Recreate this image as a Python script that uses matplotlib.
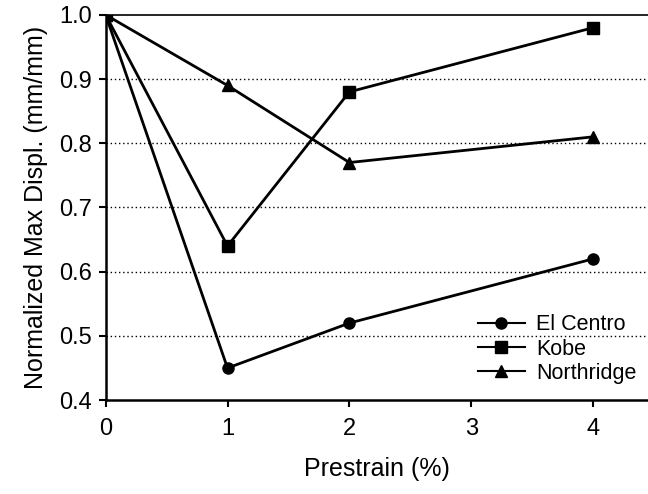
import matplotlib
matplotlib.use("Agg")
import matplotlib.pyplot as plt

plt.rcParams['font.family'] = ['Liberation Sans', 'DejaVu Sans']

prestrain = [0, 1, 2, 4]
el_centro = [1.0, 0.45, 0.52, 0.62]
kobe = [1.0, 0.64, 0.88, 0.98]
northridge = [1.0, 0.89, 0.77, 0.81]
xticks = [0, 1, 2, 3, 4]
yticks = [0.4, 0.5, 0.6, 0.7, 0.8, 0.9, 1.0]

fig = plt.figure(figsize=(6.48, 4.94), dpi=100)
ax = fig.add_axes([0.163, 0.190, 0.837, 0.780])

for yv in yticks[1:-1]:
    ax.axhline(yv, color='black', linestyle=(0, (1, 2)), linewidth=1.0, zorder=1)

kw = dict(color='black', linewidth=2.0, markersize=8, zorder=3)
ax.plot(prestrain, el_centro, marker='o', label='El Centro', **kw)
ax.plot(prestrain, kobe, marker='s', label='Kobe', **kw)
ax.plot(prestrain, northridge, marker='^', label='Northridge', **kw)

ax.set_xlim(0, 4.45)
ax.set_ylim(0.4, 1.0)
ax.set_xticks(xticks)
ax.set_yticks(yticks)
ax.set_yticklabels([f"{v:.1f}" for v in yticks])
ax.tick_params(direction='out', labelsize=17, width=1.5, length=5)
ax.tick_params(axis='x', pad=8)
ax.tick_params(axis='y', pad=5)
ax.spines['right'].set_visible(False)
for s in ['left', 'bottom']:
    ax.spines[s].set_linewidth(1.8)
ax.spines['top'].set_linewidth(1.2)

ax.set_xlabel('Prestrain (%)', fontsize=18, labelpad=12)
ax.set_ylabel('Normalized Max Displ. (mm/mm)', fontsize=18, labelpad=8)

leg = ax.legend(loc='lower right', bbox_to_anchor=(1.014, -0.008), frameon=False,
                fontsize=15.5, handlelength=2.2, labelspacing=0.15, handletextpad=0.5)
for h in leg.legend_handles:
    h.set_linewidth(1.5)

fig.savefig('out.png', dpi=100)
